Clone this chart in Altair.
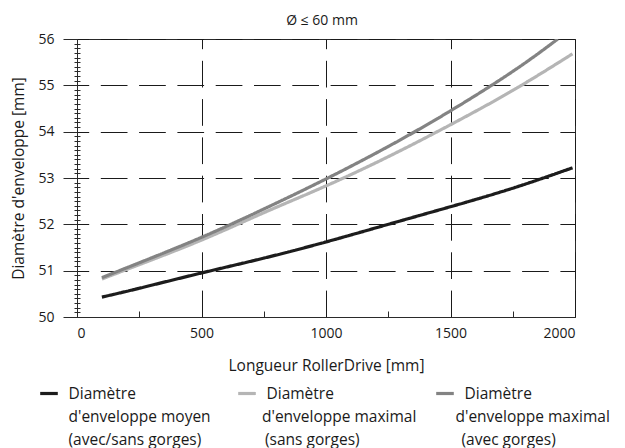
import altair as alt
import pandas as pd

FONT = "Open Sans"

# --- data ---
x_moyen = [100, 250, 500, 750, 1000, 1250, 1500, 1750, 1990]
y_moyen = [50.43, 50.62, 50.95, 51.27, 51.62, 52.0, 52.38, 52.78, 53.22]

x_sans = [100, 250, 500, 750, 1000, 1250, 1500, 1750, 1990]
y_sans = [50.82, 51.13, 51.66, 52.25, 52.83, 53.46, 54.15, 54.89, 55.68]

x_avec = [100, 250, 500, 750, 1000, 1250, 1500, 1750, 1931]
y_avec = [50.85, 51.17, 51.72, 52.33, 52.98, 53.68, 54.45, 55.3, 56.0]

series = [
    "Diamètre|d'enveloppe moyen|(avec/sans gorges)",
    "Diamètre|d'enveloppe maximal|(sans gorges)",
    "Diamètre|d'enveloppe maximal|(avec gorges)",
]
colors = ["#1c1c1c", "#b5b5b5", "#838383"]

x_ticks = [0, 500, 1000, 1500, 2000]
x_minor = [250, 750, 1250, 1750]
y_ticks = [50, 51, 52, 53, 54, 55, 56]
y_minor = [round(50 + i * 0.1, 1) for i in range(61) if i % 10 != 0]

series2 = [s + "|2" for s in series]
series3 = [s + "|3" for s in series]

rows = []
for i, (xs, ys) in enumerate(zip([x_moyen, x_sans, x_avec], [y_moyen, y_sans, y_avec])):
    for a, b in zip(xs, ys):
        rows.append({"x": a, "y": b, "series": series[i], "s2": series2[i], "s3": series3[i]})
df = pd.DataFrame(rows)

xscale = alt.Scale(domain=[0, 2000], nice=False, zero=False)
yscale = alt.Scale(domain=[50, 56], nice=False, zero=False)

LEG_X = -38.5
LEG_Y = 344
LINE_H = 23


def leg(line_no, pad, visible):
    kw = dict(
        title=None, orient="none", legendX=LEG_X, legendY=LEG_Y + line_no * LINE_H,
        direction="horizontal", columns=3, gridAlign="all", columnPadding=pad,
        symbolType="stroke", symbolSize=310, symbolStrokeWidth=3.2,
        labelFontSize=15.5, labelFont=FONT, labelColor="#1a1a1a",
        labelOffset=9, labelLimit=400, labelBaseline="middle",
        labelExpr="split(datum.label, '|')[%d]" % line_no,
    )
    if not visible:
        kw.update(symbolOpacity=0, symbolStrokeColor="transparent")
    return alt.Legend(**kw)


lines = alt.Chart(df).mark_line(strokeWidth=3.2, interpolate="natural", clip=True).encode(
    x=alt.X("x:Q", scale=xscale, axis=alt.Axis(
        values=x_ticks, title="Longueur RollerDrive [mm]", grid=True,
        gridDash=[26.7, 11.6], gridDashOffset=17, gridColor="#1a1a1a", gridOpacity=1,
        ticks=False, tickSize=0, labelPadding=9, titlePadding=18,
        domainColor="#2a2a2a", format="d")),
    y=alt.Y("y:Q", scale=yscale, axis=alt.Axis(
        values=y_ticks, title="Diamètre d'enveloppe [mm]", grid=True,
        gridDash=[26.7, 11.6], gridDashOffset=15, gridColor="#1a1a1a", gridOpacity=1,
        tickSize=14, tickColor="#2a2a2a", labelPadding=9, titlePadding=11,
        domainColor="#2a2a2a")),
    color=alt.Color("series:N", scale=alt.Scale(domain=series, range=colors),
                    legend=leg(0, 95, True)),
    strokeDash=alt.StrokeDash("s2:N", scale=alt.Scale(domain=series2, range=[[1, 0], [1, 0], [1, 0]]),
                              legend=leg(1, 8.5, False)),
    opacity=alt.Opacity("s3:N", scale=alt.Scale(domain=series3, range=[1, 1, 1]),
                        legend=leg(2, 28.5, False)),
)

ymin_df = pd.DataFrame({"v": y_minor})
yminor = alt.Chart(ymin_df).mark_tick(opacity=0).encode(
    y=alt.Y("v:Q", scale=yscale, axis=alt.Axis(
        orient="left", values=y_minor, tickSize=6, offset=-3, domain=False,
        labels=False, title=None, grid=False, tickColor="#2a2a2a")),
)

xmin_df = pd.DataFrame({"v": x_minor})
xminor = alt.Chart(xmin_df).mark_tick(opacity=0).encode(
    x=alt.X("v:Q", scale=xscale, axis=alt.Axis(
        orient="bottom", values=x_minor, tickSize=6, offset=-6, domain=False,
        labels=False, title=None, grid=False, tickColor="#2a2a2a")),
)

chart = alt.layer(lines, yminor, xminor).resolve_scale(
    x="independent", y="independent"
).properties(
    width=498, height=278,
    title=alt.TitleParams("Ø ≤ 60 mm", fontSize=14, fontWeight="normal", font=FONT,
                          anchor="middle", dx=-4, offset=4, color="#1a1a1a"),
    autosize=alt.AutoSizeParams(type="none"),
    padding={"left": 69, "top": 31, "right": 42, "bottom": 131},
).configure_view(
    stroke="#2a2a2a", strokeWidth=1
).configure_axis(
    labelFont=FONT, titleFont=FONT, labelFontSize=14, titleFontSize=15.5,
    labelColor="#1a1a1a", titleColor="#1a1a1a", titleFontWeight="normal",
)

chart.save("out.html", embed_options={"renderer": "svg", "actions": False})
